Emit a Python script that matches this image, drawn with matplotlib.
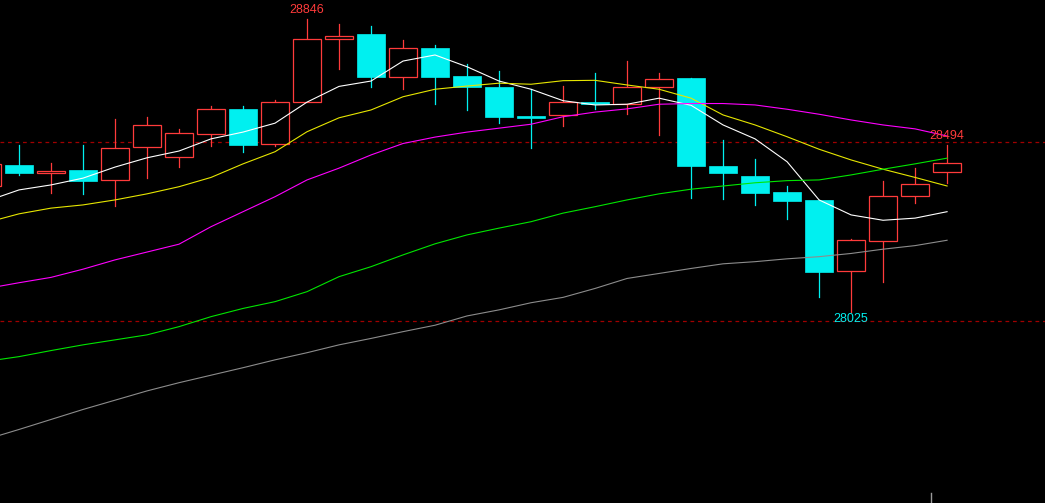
"""
Candlestick chart with moving averages, dark terminal style.
"""

import matplotlib
matplotlib.use("Agg")
import matplotlib.pyplot as plt
from matplotlib.patches import Rectangle

# OHLC, one entry per bar (first bar is cut off by the left edge)
opens = [28378, 28437, 28415, 28423, 28394, 28487, 28458, 28525, 28594, 28495,
         28612, 28789, 28804, 28684, 28765, 28686, 28656, 28574, 28578, 28614,
         28609, 28656, 28681, 28434, 28406, 28361, 28339, 28141, 28225, 28351,
         28418]
highs = [28445, 28493, 28443, 28493, 28566, 28571, 28537, 28603, 28602, 28619,
         28846, 28832, 28826, 28787, 28773, 28720, 28700, 28650, 28658, 28695,
         28728, 28695, 28681, 28507, 28454, 28378, 28339, 28230, 28392, 28429,
         28494]
lows = [28370, 28410, 28359, 28356, 28323, 28399, 28432, 28491, 28473, 28490,
        28612, 28707, 28656, 28651, 28609, 28592, 28555, 28485, 28546, 28594,
        28581, 28522, 28345, 28342, 28326, 28286, 28068, 28025, 28109, 28331,
        28387]
closes = [28440, 28413, 28421, 28393, 28484, 28549, 28526, 28593, 28494, 28613,
          28789, 28798, 28682, 28764, 28684, 28654, 28572, 28569, 28613, 28609,
          28655, 28677, 28434, 28413, 28357, 28337, 28138, 28226, 28349, 28383,
          28442]

# moving averages
ma5 = [28336, 28367, 28381, 28400, 28431, 28457, 28476, 28510, 28529, 28554,
       28613, 28657, 28672, 28728, 28745, 28712, 28672, 28649, 28617, 28605,
       28607, 28624, 28604, 28549, 28510, 28446, 28339, 28297, 28282, 28288,
       28306]
ma10 = [28276, 28300, 28316, 28325, 28339, 28356, 28376, 28402, 28440, 28474,
        28530, 28569, 28591, 28628, 28649, 28658, 28666, 28663, 28673, 28674,
        28661, 28649, 28624, 28577, 28549, 28516, 28481, 28451, 28425, 28402,
        28378]
ma20 = [28091, 28107, 28122, 28145, 28171, 28193, 28215, 28264, 28306, 28348,
        28395, 28428, 28465, 28497, 28515, 28529, 28540, 28551, 28572, 28585,
        28594, 28607, 28609, 28609, 28605, 28593, 28579, 28563, 28549, 28538,
        28518]
ma60 = [27887, 27900, 27917, 27933, 27947, 27961, 27984, 28012, 28035, 28054,
        28082, 28124, 28152, 28185, 28216, 28241, 28260, 28278, 28302, 28320,
        28339, 28356, 28369, 28378, 28387, 28393, 28395, 28409, 28425, 28440,
        28456]
ma120 = [27669, 27696, 27724, 27752, 27778, 27804, 27827, 27848, 27869, 27891,
         27911, 27933, 27951, 27970, 27988, 28014, 28031, 28051, 28066, 28091,
         28119, 28133, 28147, 28160, 28166, 28174, 28180, 28189, 28201, 28211,
         28226]

ref_levels = [28500, 28000]
high_label = "28846"
low_label = "28025"
last_label = "28494"

UP = "#ff3b3b"
DOWN = "#00f0f0"
MA_COLORS = ["#ffffff", "#e6e600", "#ff00ff", "#00e600", "#8c8c8c"]


def main():
    fig = plt.figure(figsize=(10.45, 5.03), dpi=100, facecolor="black")
    ax = fig.add_axes([0, 0, 1, 1], facecolor="black")
    ax.set_xlim(0.406, 33.06)
    ax.set_ylim(27490, 28899)
    ax.axis("off")

    for lvl in ref_levels:
        ax.axhline(lvl, color="#a00000", lw=0.9, dashes=(3, 3), zorder=1)

    w = 0.88
    for i, (o, h, l, c) in enumerate(zip(opens, highs, lows, closes)):
        top, bot = max(o, c), min(o, c)
        if c >= o:
            col = UP
            ax.plot([i, i], [top, h], color=col, lw=0.9, zorder=2)
            ax.plot([i, i], [l, bot], color=col, lw=0.9, zorder=2)
            ax.add_patch(Rectangle((i - w / 2, bot), w, max(top - bot, 2),
                                   facecolor="black", edgecolor=col,
                                   lw=0.9, zorder=3))
        else:
            col = DOWN
            ax.plot([i, i], [l, h], color=col, lw=0.9, zorder=2)
            ax.add_patch(Rectangle((i - w / 2, bot), w, max(top - bot, 4),
                                   facecolor=col, edgecolor=col,
                                   lw=0.5, zorder=3))

    xs = range(len(closes))
    for series, col in zip([ma5, ma10, ma20, ma60, ma120], MA_COLORS):
        ax.plot(xs, series, color=col, lw=0.8, zorder=4)

    # price labels at extremes
    hi_i = highs.index(max(highs))
    lo_i = lows.index(min(lows))
    ax.text(hi_i, highs[hi_i] + 8, high_label, color=UP, ha="center",
            va="bottom", fontsize=9, family="Liberation Sans", zorder=5)
    ax.text(lo_i, lows[lo_i] - 4, low_label, color=DOWN, ha="center",
            va="top", fontsize=9, family="Liberation Sans", zorder=5)
    last = len(highs) - 1
    ax.text(last, highs[last] + 8, last_label, color=UP, ha="center",
            va="bottom", fontsize=9, family="Liberation Sans", zorder=5)

    # small marker at the bottom edge
    ax.axvline(last - 0.5, ymin=0, ymax=0.02, color="#9a9a9a", lw=1)

    fig.savefig("out.png", dpi=100, facecolor="black")


if __name__ == "__main__":
    main()
